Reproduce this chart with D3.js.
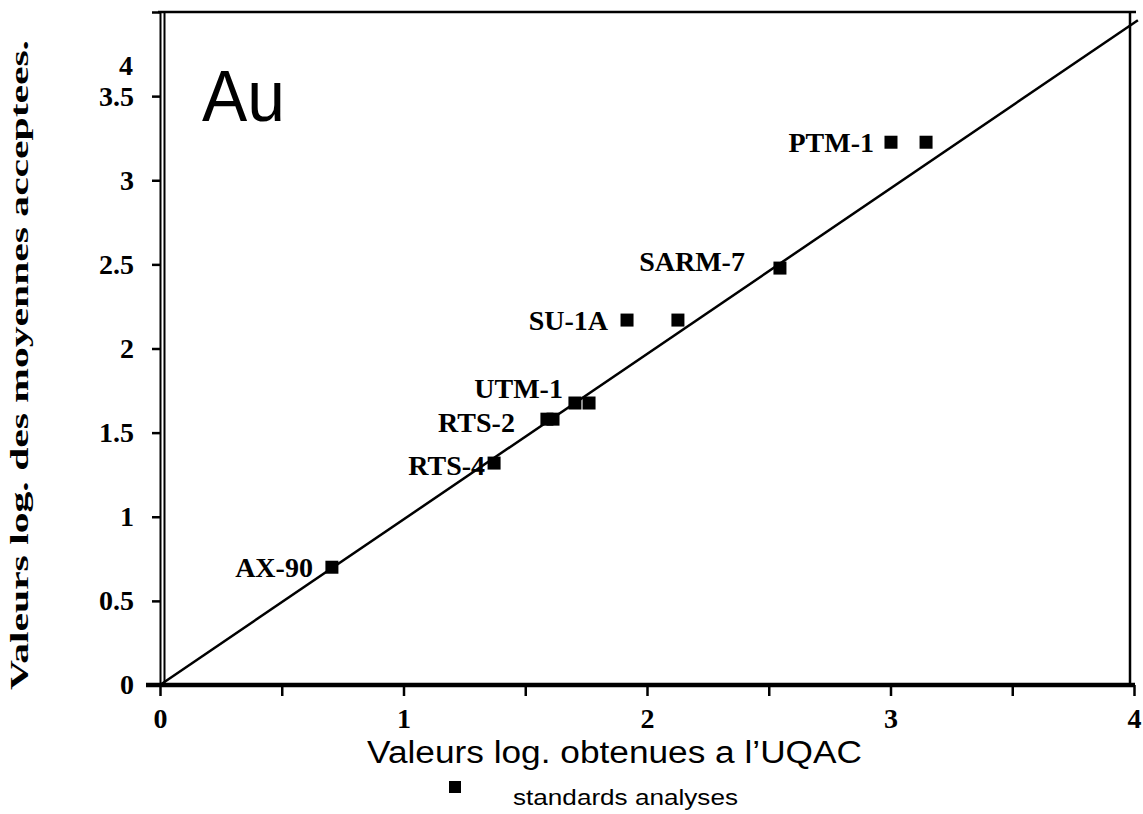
<!DOCTYPE html>
<html>
<head>
<meta charset="utf-8">
<script src="https://cdn.jsdelivr.net/npm/d3@7"></script>
<style>
    body { margin: 0; background: #fff; }
    .serif { font-family: "Liberation Serif", "DejaVu Serif", serif; font-weight: bold; }
    .sans { font-family: "Liberation Sans", Arial, sans-serif; }
</style>
</head>
<body>
<div id="chartContainer"></div>
<script>
// Standards: names and log values (x = UQAC, y = accepted means)
var names = ["AX-90", "RTS-4", "RTS-2", "RTS-2", "UTM-1", "UTM-1", "SU-1A", "SU-1A", "SARM-7", "PTM-1", "PTM-1"];
var xValues = [0.706, 1.372, 1.589, 1.614, 1.704, 1.762, 1.918, 2.127, 2.546, 3.002, 3.146];
var yValues = [0.70, 1.319, 1.58, 1.58, 1.676, 1.676, 2.169, 2.169, 2.478, 3.226, 3.226];

// fitted line end points
var fitLine = [[0, 0], [4.016, 3.951]];

var xTicks = [0, 0.5, 1, 1.5, 2, 2.5, 3, 3.5, 4];
var yTicks = [0, 0.5, 1, 1.5, 2, 2.5, 3, 3.5, 4];

// label offsets in px from the first marker of each standard
var labelOffsets = {
    "AX-90": [-19, 10],
    "RTS-4": [-9, 12],
    "RTS-2": [-32, 13],
    "UTM-1": [-12, -5],
    "SU-1A": [-19, 10],
    "SARM-7": [-35, 3],
    "PTM-1": [-17, 10]
};

function init() {
    var w = 1143;
    var h = 814;

    var xScale = d3.scaleLinear().domain([0, 4]).range([160, 1134]);
    var yScale = d3.scaleLinear().domain([0, 4]).range([685, 12]);

    var svg = d3.select("#chartContainer")
        .append("svg")
        .attr("width", w)
        .attr("height", h);

    svg.append("rect").attr("width", w).attr("height", h).attr("fill", "#fff");

    // frame: top and right edges
    svg.append("line")
        .attr("x1", xScale(0) - 2).attr("x2", xScale(4) + 2)
        .attr("y1", yScale(4)).attr("y2", yScale(4))
        .attr("stroke", "#000").attr("stroke-width", 2.5);
    svg.append("line")
        .attr("x1", xScale(4) - 4).attr("x2", xScale(4) - 4)
        .attr("y1", yScale(4)).attr("y2", yScale(0))
        .attr("stroke", "#000").attr("stroke-width", 2.5);

    // second line of the doubled y axis
    svg.append("line")
        .attr("x1", xScale(0) + 4.5).attr("x2", xScale(0) + 4.5)
        .attr("y1", yScale(4)).attr("y2", yScale(0))
        .attr("stroke", "#000").attr("stroke-width", 2);

    // x axis
    var xAxis = d3.axisBottom(xScale)
        .tickValues(xTicks)
        .tickSize(11)
        .tickSizeOuter(0)
        .tickPadding(12)
        .tickFormat(function (d) { return Number.isInteger(d) ? d : ""; });

    var gx = svg.append("g")
        .attr("class", "x axis serif")
        .attr("transform", "translate(0," + yScale(0) + ")")
        .call(xAxis);
    gx.select(".domain").attr("stroke-width", 4.5)
        .attr("d", "M" + (xScale(0) - 14) + ",0H" + (xScale(4) + 1));
    gx.selectAll(".tick line").attr("stroke-width", 2.5);
    gx.selectAll(".tick text").attr("font-size", 28).attr("fill", "#000");

    // y axis
    var yAxis = d3.axisLeft(yScale)
        .tickValues(yTicks)
        .tickSize(8)
        .tickSizeOuter(0)
        .tickPadding(18)
        .tickFormat(function (d) { return d; });

    var gy = svg.append("g")
        .attr("class", "y axis serif")
        .attr("transform", "translate(" + xScale(0) + ",0)")
        .call(yAxis);
    gy.select(".domain").attr("stroke-width", 2);
    gy.selectAll(".tick line").attr("stroke-width", 2.5);
    gy.selectAll(".tick text").attr("font-size", 28).attr("fill", "#000");
    // the "4" label sits down next to 3.5 in the original
    gy.selectAll(".tick text")
        .filter(function (d) { return d === 4; })
        .attr("transform", "translate(-1," + (yScale(3.5) - yScale(4) - 31) + ")");

    // fitted line
    var line = d3.line()
        .x(function (d) { return xScale(d[0]); })
        .y(function (d) { return yScale(d[1]); });
    svg.append("path")
        .datum(fitLine)
        .attr("fill", "none")
        .attr("stroke", "#000")
        .attr("stroke-width", 2.5)
        .attr("d", line);

    // markers
    var pts = names.map(function (n, i) { return { name: n, x: xValues[i], y: yValues[i] }; });
    var size = 13;
    svg.selectAll("rect.pt")
        .data(pts)
        .enter()
        .append("rect")
        .attr("class", "pt")
        .attr("x", function (d) { return xScale(d.x) - size / 2; })
        .attr("y", function (d) { return yScale(d.y) - size / 2; })
        .attr("width", size)
        .attr("height", size)
        .attr("fill", "#000");

    // labels, once per standard
    var firsts = pts.filter(function (d, i) { return names.indexOf(d.name) === i; });
    svg.selectAll("text.lbl")
        .data(firsts)
        .enter()
        .append("text")
        .attr("class", "lbl serif")
        .attr("x", function (d) { return xScale(d.x) + labelOffsets[d.name][0]; })
        .attr("y", function (d) { return yScale(d.y) + labelOffsets[d.name][1]; })
        .attr("text-anchor", "end")
        .attr("font-size", 28)
        .text(function (d) { return d.name; });

    // element name
    svg.append("text")
        .attr("class", "sans")
        .attr("x", 202)
        .attr("y", 121)
        .attr("font-size", 72)
        .attr("textLength", 83)
        .attr("lengthAdjust", "spacingAndGlyphs")
        .text("Au");

    // axis titles
    svg.append("text")
        .attr("class", "sans")
        .attr("x", 367)
        .attr("y", 763)
        .attr("font-size", 31)
        .attr("textLength", 495)
        .attr("lengthAdjust", "spacingAndGlyphs")
        .text("Valeurs log. obtenues a l\u2019UQAC");

    svg.append("text")
        .attr("class", "serif")
        .attr("transform", "translate(28,365) rotate(-90)")
        .attr("text-anchor", "middle")
        .attr("font-size", 26)
        .attr("textLength", 650)
        .attr("lengthAdjust", "spacingAndGlyphs")
        .text("Valeurs log. des moyennes acceptees.");

    // legend
    svg.append("rect")
        .attr("x", 449).attr("y", 781)
        .attr("width", 12).attr("height", 12)
        .attr("fill", "#000");
    svg.append("text")
        .attr("class", "sans")
        .attr("x", 513)
        .attr("y", 805)
        .attr("font-size", 22)
        .attr("textLength", 225)
        .attr("lengthAdjust", "spacingAndGlyphs")
        .text("standards analyses");
}

window.onload = init;
</script>
</body>
</html>
